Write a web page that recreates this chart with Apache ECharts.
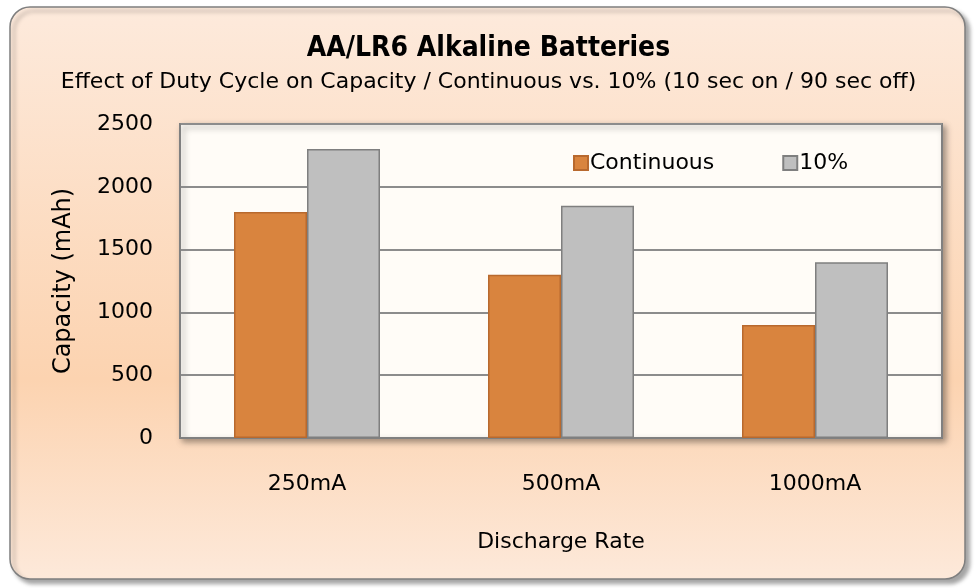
<!DOCTYPE html>
<html>
<head>
<meta charset="utf-8">
<script src="https://cdn.jsdelivr.net/npm/echarts@6/dist/echarts.min.js"></script>
<style>
  html, body { margin: 0; padding: 0; background: #fff; }
  #chart { width: 977px; height: 588px; }
</style>
</head>
<body>
<div id="chart"></div>
<script>
const categories = ["250mA", "500mA", "1000mA"]
const continuous = [1800, 1300, 900]
const dutyTen = [2300, 1850, 1400]
const seriesNames = ["Continuous", "10%"]

const font = "'DejaVu Sans', sans-serif"
const titleFont = "'DejaVu Sans Condensed', 'DejaVu Sans', sans-serif"
const myChart = echarts.init(document.getElementById("chart"))

const option = {
  backgroundColor: "#ffffff",
  animation: false,
  graphic: [
    {
      type: "rect",
      z: -10,
      silent: true,
      shape: { x: 10, y: 7, width: 955, height: 572, r: 20 },
      style: {
        fill: new echarts.graphic.LinearGradient(0, 0, 0, 1, [
          { offset: 0, color: "#fdeadc" },
          { offset: 0.65, color: "#fcd3b0" },
          { offset: 1, color: "#fde9da" },
        ]),
        stroke: "#7f7f7f",
        lineWidth: 1.5,
        shadowBlur: 4,
        shadowOffsetX: 4,
        shadowOffsetY: 4,
        shadowColor: "rgba(0,0,0,0.35)",
      },
    },
  ],
  title: {
    text: "AA/LR6 Alkaline Batteries",
    subtext: "Effect of Duty Cycle on Capacity / Continuous vs. 10% (10 sec on / 90 sec off)",
    left: "center",
    top: 30,
    itemGap: 8,
    textStyle: { fontFamily: titleFont, fontSize: 28, fontWeight: "bold", color: "#000" },
    subtextStyle: { fontFamily: font, fontSize: 22, color: "#000" },
  },
  legend: {
    data: seriesNames,
    left: 568,
    top: 147,
    itemWidth: 14,
    itemHeight: 14,
    itemGap: 68,
    icon: "rect",
    textStyle: { fontFamily: font, fontSize: 22, color: "#000", padding: [0, 0, 0, -3] },
  },
  grid: {
    left: 180,
    right: 35,
    top: 124,
    bottom: 150,
    show: true,
    backgroundColor: "#fffcf7",
    borderColor: "#808080",
    borderWidth: 2,
    shadowBlur: 6,
    shadowOffsetX: 3,
    shadowOffsetY: 3,
    shadowColor: "rgba(0,0,0,0.35)",
  },
  xAxis: {
    type: "category",
    data: categories,
    name: "Discharge Rate",
    nameLocation: "middle",
    nameGap: 93,
    nameTextStyle: { fontFamily: font, fontSize: 22, color: "#000" },
    axisLine: { lineStyle: { color: "#808080", width: 2 } },
    axisTick: { show: false },
    axisLabel: { fontFamily: font, fontSize: 22, color: "#000", margin: 35 },
  },
  yAxis: {
    type: "value",
    min: 0,
    max: 2500,
    interval: 500,
    name: "Capacity (mAh)",
    nameLocation: "middle",
    nameGap: 104,
    nameTextStyle: { fontFamily: font, fontSize: 24, color: "#000" },
    axisLine: { show: true, lineStyle: { color: "#808080", width: 2 } },
    axisTick: { show: false },
    axisLabel: {
      fontFamily: font,
      fontSize: 22,
      color: "#000",
      margin: 27,
      formatter: (v) => String(v),
    },
    splitLine: { lineStyle: { color: "#8c8c8c", width: 2 } },
  },
  series: [
    {
      name: seriesNames[0],
      type: "bar",
      data: continuous,
      barWidth: 73,
      barGap: "0%",
      itemStyle: { color: "#d9843e", borderColor: "#b8692e", borderWidth: 1.5 },
    },
    {
      name: seriesNames[1],
      type: "bar",
      data: dutyTen,
      barWidth: 73,
      barGap: "0%",
      itemStyle: { color: "#bfbfbf", borderColor: "#7f7f7f", borderWidth: 1.5 },
    },
  ],
}

myChart.setOption(option)
</script>
</body>
</html>
